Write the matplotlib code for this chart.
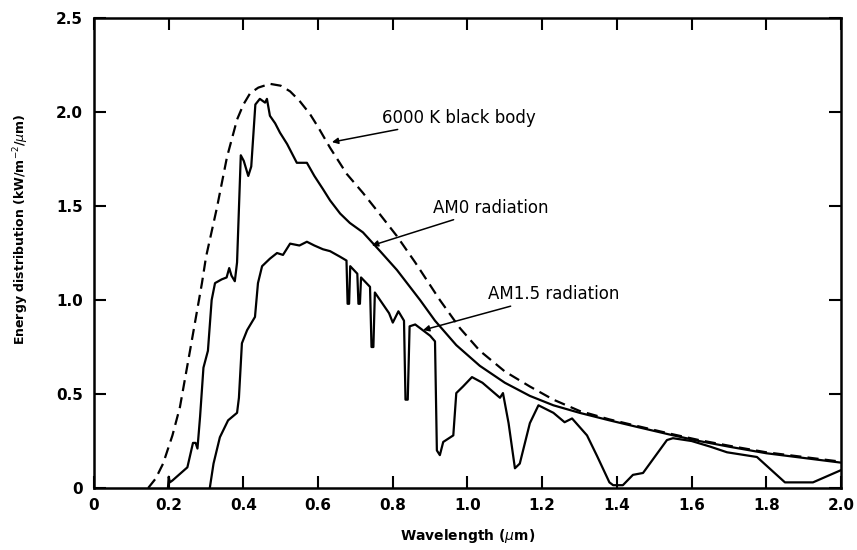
import matplotlib
matplotlib.use('Agg')
import matplotlib.pyplot as plt

# 6000 K black body curve (dashed)
bb_wl = [0.145, 0.165, 0.185, 0.21, 0.23, 0.257, 0.289, 0.30, 0.329, 0.356, 0.383, 0.40, 0.418,
         0.44, 0.471, 0.50, 0.525, 0.55, 0.578, 0.60, 0.632, 0.677, 0.72, 0.76, 0.811, 0.86,
         0.926, 0.98, 1.033, 1.10, 1.167, 1.23, 1.30, 1.38, 1.454, 1.54, 1.62, 1.70, 1.80, 1.90, 2.0]
bb_e = [0.0, 0.05, 0.13, 0.28, 0.43, 0.73, 1.09, 1.23, 1.49, 1.76, 1.96, 2.04, 2.10,
        2.13, 2.15, 2.14, 2.11, 2.06, 1.99, 1.92, 1.81, 1.67, 1.57, 1.47, 1.34, 1.20,
        1.0, 0.85, 0.73, 0.62, 0.54, 0.47, 0.41, 0.365, 0.33, 0.29, 0.255, 0.225, 0.19, 0.165, 0.14]

# AM0 radiation
am0_wl = [0.198, 0.200, 0.203, 0.21, 0.25, 0.265, 0.272, 0.277, 0.284, 0.293, 0.305, 0.315, 0.324,
          0.342, 0.355, 0.362, 0.368, 0.377, 0.383, 0.393, 0.401, 0.413, 0.421, 0.432, 0.444,
          0.458, 0.463, 0.471, 0.485, 0.498, 0.517, 0.543, 0.57, 0.59, 0.613, 0.632, 0.659,
          0.685, 0.72, 0.766, 0.811, 0.873, 0.913, 0.97, 1.033, 1.10, 1.167, 1.23, 1.30, 1.38,
          1.454, 1.54, 1.62, 1.70, 1.80, 1.90, 2.0]
am0_e = [0.0, 0.06, 0.03, 0.04, 0.11, 0.24, 0.24, 0.21, 0.38, 0.64, 0.73, 1.0, 1.09,
         1.11, 1.12, 1.17, 1.13, 1.10, 1.20, 1.77, 1.74, 1.66, 1.71, 2.04, 2.07,
         2.05, 2.07, 1.98, 1.94, 1.89, 1.83, 1.73, 1.73, 1.66, 1.59, 1.53, 1.46,
         1.41, 1.36, 1.26, 1.16, 1.0, 0.89, 0.76, 0.65, 0.56, 0.49, 0.44, 0.40, 0.36,
         0.325, 0.285, 0.25, 0.22, 0.185, 0.16, 0.135]

# AM1.5 radiation
am15_wl = [0.31, 0.32, 0.337, 0.359, 0.383, 0.388, 0.396, 0.41, 0.431, 0.439, 0.45, 0.471, 0.49,
           0.506, 0.525, 0.55, 0.57, 0.59, 0.613, 0.632, 0.659, 0.676, 0.679, 0.683, 0.686,
           0.705, 0.708, 0.712, 0.715, 0.739, 0.743, 0.748, 0.752, 0.79, 0.80, 0.815, 0.83,
           0.834, 0.840, 0.845, 0.86, 0.90, 0.913, 0.918, 0.926, 0.935, 0.962, 0.97, 0.988,
           1.012, 1.04, 1.087, 1.095, 1.11, 1.127, 1.14, 1.167, 1.19, 1.23, 1.26, 1.28, 1.32,
           1.347, 1.38, 1.39, 1.416, 1.443, 1.47, 1.534, 1.55, 1.60, 1.65, 1.695, 1.775,
           1.85, 1.925, 2.0]
am15_e = [0.0, 0.13, 0.27, 0.36, 0.40, 0.48, 0.77, 0.84, 0.91, 1.09, 1.18, 1.22, 1.25,
          1.24, 1.30, 1.29, 1.31, 1.29, 1.27, 1.26, 1.23, 1.21, 0.98, 0.98, 1.18,
          1.14, 0.98, 0.98, 1.12, 1.07, 0.75, 0.75, 1.04, 0.93, 0.88, 0.94, 0.89,
          0.47, 0.47, 0.86, 0.87, 0.81, 0.78, 0.20, 0.175, 0.245, 0.28, 0.505, 0.54,
          0.59, 0.56, 0.48, 0.505, 0.345, 0.105, 0.13, 0.345, 0.44, 0.40, 0.35, 0.37, 0.28,
          0.17, 0.03, 0.015, 0.015, 0.07, 0.08, 0.255, 0.265, 0.25, 0.22, 0.19, 0.165,
          0.03, 0.03, 0.095]

x_ticks = [0, 0.2, 0.4, 0.6, 0.8, 1.0, 1.2, 1.4, 1.6, 1.8, 2.0]
x_labels = ['0', '0.2', '0.4', '0.6', '0.8', '1.0', '1.2', '1.4', '1.6', '1.8', '2.0']
y_ticks = [0, 0.5, 1.0, 1.5, 2.0, 2.5]
y_labels = ['0', '0.5', '1.0', '1.5', '2.0', '2.5']

fig = plt.figure(figsize=(8.57, 5.5), dpi=100)
ax = fig.add_axes([0.1097, 0.1127, 0.8716, 0.8545])

# draw the three curves
ax.plot(bb_wl, bb_e, color='black', lw=1.6, dashes=(5, 2.8))
ax.plot(am0_wl, am0_e, color='black', lw=1.6)
ax.plot(am15_wl, am15_e, color='black', lw=1.6)

ax.set_xlim(0, 2.0)
ax.set_ylim(0, 2.5)
ax.set_xticks(x_ticks)
ax.set_xticklabels(x_labels, fontweight='bold', fontsize=11)
ax.set_yticks(y_ticks)
ax.set_yticklabels(y_labels, fontweight='bold', fontsize=11)
ax.tick_params(direction='in', length=8.5, width=1.5, top=True, right=True)
ax.tick_params(axis='y', pad=8)
ax.tick_params(axis='x', pad=7)
for s in ax.spines.values():
    s.set_linewidth(1.8)

ax.set_xlabel('Wavelength ($\\mu$m)', fontweight='bold', fontsize=10, labelpad=10)
ax.set_ylabel('Energy distribution (kW/m$^{-2}$/$\\mu$m)', fontweight='bold', fontsize=9)
ax.yaxis.set_label_coords(-0.084, 0.551)

# labels with arrows
arrow = dict(arrowstyle='-|>', color='black', lw=1.1, mutation_scale=9, shrinkA=0, shrinkB=0)
ax.annotate('6000 K black body', xy=(0.637, 1.84), xytext=(0.771, 1.97),
            fontsize=12, va='center', arrowprops=arrow)
ax.annotate('AM0 radiation', xy=(0.744, 1.29), xytext=(0.908, 1.49),
            fontsize=12, va='center', arrowprops=arrow)
ax.annotate('AM1.5 radiation', xy=(0.881, 0.84), xytext=(1.055, 1.03),
            fontsize=12, va='center', arrowprops=arrow)

plt.savefig('out.png', dpi=100)
